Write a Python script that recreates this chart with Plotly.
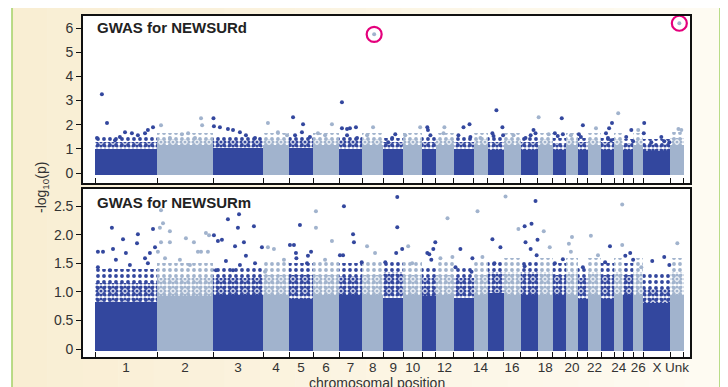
import plotly.graph_objects as go

# ---------------- data ----------------
chrom_names = ["1", "2", "3", "4", "5", "6", "7", "8", "9", "10", "11", "12", "13", "14",
               "15", "16", "17", "18", "19", "20", "21", "22", "23", "24", "25", "26", "X", "Unk"]
chrom_len_mb = [279, 252, 225, 117, 108, 117, 104, 95, 90, 86, 59, 81, 90, 63,
                72, 77, 77, 68, 59, 54, 45, 59, 59, 41, 45, 45, 122, 59]
tick_labels = ["1", "2", "3", "4", "5", "6", "7", "8", "9", "10", "", "12", "", "14",
               "", "16", "", "18", "", "20", "", "22", "", "24", "", "26", "X", "Unk"]

# NEWSURd: envelope of the dense SNP cloud per chromosome (-log10 p)
d_solid = [1.00, 1.15, 1.05, 1.15, 1.05, 1.15, 1.00, 1.15, 0.98, 1.15, 1.00, 1.15, 1.00, 1.15,
           0.97, 1.15, 0.95, 1.15, 0.95, 1.15, 0.97, 1.15, 0.97, 1.15, 0.95, 1.15, 0.92, 1.15]
d_dense = [1.30, 1.40, 1.35, 1.40, 1.35, 1.40, 1.35, 1.40, 1.28, 1.40, 1.30, 1.40, 1.30, 1.40,
           1.30, 1.40, 1.30, 1.40, 1.25, 1.40, 1.28, 1.40, 1.28, 1.40, 1.25, 1.40, 1.20, 1.45]
d_sparse = [1.50, 1.65, 1.55, 1.65, 1.50, 1.65, 1.55, 1.65, 1.45, 1.65, 1.50, 1.65, 1.50, 1.65,
            1.50, 1.65, 1.50, 1.65, 1.45, 1.65, 1.45, 1.65, 1.45, 1.65, 1.40, 1.65, 1.40, 1.70]

# NEWSURd: individual SNPs standing out above the cloud
d_peak_chr = (["1"] * 11 + ["2"] * 7 + ["3"] * 8 + ["4"] * 3 + ["5"] * 5 + ["6"] * 3 + ["7"] * 7 +
              ["8"] * 3 + ["9"] * 3 + ["10"] * 2 + ["11"] * 3 + ["12"] * 2 + ["13"] * 4 + ["14"] * 1 +
              ["15"] * 5 + ["16"] * 1 + ["17"] * 4 + ["18"] * 2 + ["19"] * 4 + ["20"] * 1 + ["21"] * 3 +
              ["22"] * 1 + ["23"] * 5 + ["24"] * 1 + ["25"] * 3 + ["26"] * 1 + ["X"] * 6 + ["Unk"] * 3)
d_peak_pos = [31, 54, 9, 135, 166, 193, 225, 238, 261, 90, 112,
              18, 112, 140, 198, 203, 58, 171,
              2, 4, 31, 67, 90, 121, 148, 189,
              22, 67, 108,
              18, 63, 58, 27, 94,
              85, 22, 54,
              13, 13, 36, 49, 76, 36, 81,
              54, 49, 22,
              54, 40, 22,
              76, 9,
              22, 25, 36,
              36, 40,
              45, 72, 22, 76,
              31,
              40, 67, 22, 27, 70,
              45,
              58, 67, 22, 45,
              4, 49,
              40, 9, 45, 22,
              22,
              22, 4, 13,
              36,
              49, 36, 22, 31, 45,
              18,
              36, 13, 44,
              22,
              4, 2, 36, 81, 94, 117,
              40, 36, 49]
d_peak_val = [3.26, 2.07, 1.45, 1.69, 1.65, 1.57, 1.65, 1.78, 1.90, 1.36, 1.49,
              1.98, 1.61, 1.65, 2.27, 1.98, 1.45, 1.45,
              2.27, 1.94, 1.90, 1.82, 1.78, 1.69, 1.57, 1.45,
              2.07, 1.69, 1.57,
              2.31, 2.02, 1.69, 1.57, 1.49,
              2.02, 1.65, 1.57,
              2.93, 1.86, 1.82, 1.86, 1.90, 1.57, 1.45,
              5.74, 1.90, 1.57,
              1.61, 1.45, 1.28,
              1.90, 1.57,
              1.90, 1.78, 1.57,
              1.65, 1.90,
              1.90, 2.02, 1.57, 1.49,
              1.45,
              2.60, 1.90, 1.65, 1.53, 1.57,
              1.57,
              1.78, 1.65, 1.45, 1.57,
              2.31, 1.61,
              2.27, 1.65, 1.61, 1.53,
              1.57,
              1.98, 1.61, 1.49,
              1.86,
              2.07, 1.86, 1.65, 1.45, 1.36,
              2.48,
              1.78, 1.49, 1.32,
              1.78,
              2.07, 1.65, 1.28, 1.49, 1.32, 1.28,
              6.20, 1.82, 1.78]
d_circled_chr = ["8", "Unk"]
d_circled_pos = [54, 40]
d_circled_val = [5.74, 6.20]

# NEWSURm: envelope of the dense SNP cloud per chromosome
m_solid = [0.82, 0.92, 0.95, 0.95, 0.88, 0.95, 0.95, 0.95, 0.90, 0.95, 0.92, 0.95, 0.90, 0.95,
           0.98, 0.95, 0.95, 0.95, 0.95, 0.95, 0.88, 0.95, 0.88, 0.95, 0.95, 0.95, 0.80, 0.95]
m_dense = [1.15, 1.25, 1.25, 1.30, 1.30, 1.30, 1.28, 1.30, 1.35, 1.30, 1.25, 1.30, 1.25, 1.30,
           1.35, 1.35, 1.35, 1.35, 1.30, 1.35, 1.25, 1.35, 1.30, 1.35, 1.30, 1.35, 1.05, 1.35]
m_sparse = [1.40, 1.50, 1.45, 1.55, 1.50, 1.55, 1.50, 1.55, 1.55, 1.55, 1.45, 1.55, 1.45, 1.55,
            1.55, 1.60, 1.55, 1.60, 1.50, 1.60, 1.45, 1.60, 1.50, 1.60, 1.50, 1.60, 1.35, 1.60]

m_peak_chr = (["1"] * 17 + ["2"] * 17 + ["3"] * 16 + ["4"] * 4 + ["5"] * 8 + ["6"] * 4 + ["7"] * 6 +
              ["8"] * 2 + ["9"] * 5 + ["10"] * 2 + ["11"] * 5 + ["12"] * 3 + ["13"] * 4 + ["14"] * 2 +
              ["15"] * 3 + ["16"] * 2 + ["17"] * 8 + ["18"] * 2 + ["19"] * 2 + ["20"] * 3 + ["21"] * 1 +
              ["22"] * 2 + ["23"] * 2 + ["24"] * 2 + ["25"] * 3 + ["26"] * 1 + ["X"] * 3 + ["Unk"] * 1)
m_peak_pos = [76, 13, 36, 81, 126, 193, 189, 261, 270, 13, 139, 94, 225, 247, 67, 157, 238,
              18, 27, 13, 58, 18, 58, 166, 184, 198, 220, 234, 4, 103, 229, 36, 148, 130,
              67, 117, 112, 184, 4, 22, 40, 139, 99, 220, 148, 58, 121, 189, 13, 90,
              22, 49, 9, 94,
              49, 4, 22, 31, 33, 99, 85, 81,
              13, 13, 85, 54,
              22, 63, 67, 4, 18, 102,
              22, 58,
              63, 63, 85, 58, 9,
              22, 40,
              58, 22, 31, 49, 40,
              54, 22, 76,
              31, 85, 9, 81,
              18, 40,
              22, 58, 31,
              9, 67,
              67, 18, 49, 76, 22, 45, 72, 18,
              27, 54,
              45, 9,
              27, 13, 22,
              22,
              13, 45,
              40, 18,
              36, 36,
              31, 9, 44,
              36,
              40, 94, 117,
              31]
m_peak_val = [2.12, 1.70, 1.70, 1.75, 1.92, 2.01, 1.85, 2.10, 1.78, 1.43, 1.68, 1.56, 1.59, 1.68, 1.38, 1.47, 1.50,
              2.43, 2.20, 2.12, 2.06, 1.87, 1.87, 1.87, 1.70, 1.70, 2.03, 1.99, 1.70, 1.56, 1.70, 1.59, 1.47, 1.94,
              2.27, 2.36, 2.12, 2.15, 1.99, 1.89, 1.91, 1.87, 1.80, 1.78, 1.63, 1.54, 1.47, 1.50, 1.38, 1.38,
              1.78, 1.75, 1.35, 1.56,
              2.17, 1.82, 1.82, 1.68, 1.59, 1.70, 1.63, 1.50,
              2.41, 2.12, 1.89, 1.56,
              2.50, 2.01, 1.87, 1.64, 1.64, 1.52,
              1.80, 1.68,
              2.66, 2.13, 1.75, 1.68, 1.52,
              1.80, 1.50,
              1.87, 1.68, 1.66, 1.75, 1.56,
              2.29, 1.59, 1.61,
              1.75, 1.59, 1.43, 1.35,
              2.41, 1.61,
              1.92, 1.78, 1.50,
              2.67, 2.10,
              2.59, 2.15, 2.19, 1.91, 1.87, 1.75, 1.64, 1.45,
              2.06, 1.78,
              1.57, 1.50,
              1.96, 1.84, 1.70,
              1.43,
              1.98, 1.64,
              1.80, 1.52,
              2.53, 1.82,
              1.68, 1.63, 1.56,
              1.43,
              1.54, 1.61, 1.47,
              1.85]

# ---------------- styling ----------------
DARK = "#33479e"
LIGHT = "#a1b3cd"
FONT = "Arial, Liberation Sans, Helvetica, sans-serif"

starts = []
acc = 0
for L in chrom_len_mb:
    starts.append(acc)
    acc += L
genome_end = acc
centers = [s + L / 2 for s, L in zip(starts, chrom_len_mb)]
boundaries = starts + [genome_end]
offset = dict(zip(chrom_names, starts))
col_of = {c: (DARK if i % 2 == 0 else LIGHT) for i, c in enumerate(chrom_names)}
bar_colors = [col_of[c] for c in chrom_names]

fig = go.Figure()


def add_panel(solid, dense, sparse, base, pchr, ppos, pval, xa, ya):
    # stippled (dotted-pattern) zones imitate the thinning cloud of SNP points
    for tops, psize, psol in ((sparse, 6, 0.32), (dense, 4, 0.5)):
        fig.add_trace(go.Bar(
            x=centers, y=[t - base for t in tops], base=[base] * len(tops), width=chrom_len_mb,
            marker=dict(color=bar_colors, line=dict(width=0),
                        pattern=dict(shape=".", fgcolor=bar_colors, bgcolor="rgba(0,0,0,0)",
                                     size=psize, solidity=psol, fillmode="replace")),
            xaxis=xa, yaxis=ya, hoverinfo="skip", showlegend=False))
    fig.add_trace(go.Bar(
        x=centers, y=[t - base for t in solid], base=[base] * len(solid), width=chrom_len_mb,
        marker=dict(color=bar_colors, line=dict(width=0)),
        xaxis=xa, yaxis=ya, hoverinfo="skip", showlegend=False))
    for col in (LIGHT, DARK):
        xs = [offset[c] + p for c, p, v in zip(pchr, ppos, pval) if col_of[c] == col]
        ys = [v for c, p, v in zip(pchr, ppos, pval) if col_of[c] == col]
        fig.add_trace(go.Scatter(
            x=xs, y=ys, mode="markers", marker=dict(size=4, color=col),
            xaxis=xa, yaxis=ya, showlegend=False, cliponaxis=False, hoverinfo="skip"))


add_panel(d_solid, d_dense, d_sparse, -0.08, d_peak_chr, d_peak_pos, d_peak_val, "x2", "y2")
add_panel(m_solid, m_dense, m_sparse, -0.03, m_peak_chr, m_peak_pos, m_peak_val, "x", "y")

fig.add_trace(go.Scatter(
    x=[offset[c] + p for c, p in zip(d_circled_chr, d_circled_pos)], y=d_circled_val,
    mode="markers", marker=dict(symbol="circle-open", size=15, color="#e4007c", line=dict(width=2.2)),
    xaxis="x2", yaxis="y2", showlegend=False, cliponaxis=False, hoverinfo="skip"))

# ---------------- layout ----------------
# the page body has an 8 px margin, so the figure is made 8 px smaller and all
# positions below are given in window pixels.
PAGE_W, PAGE_H, BODY = 728, 387, 8
W, H = PAGE_W - BODY, PAGE_H - BODY
PLOT_L, PLOT_R, PLOT_T, PLOT_B = 83, 690, 16, 357          # window pixels
ML, MT = PLOT_L - BODY, PLOT_T - BODY
MR, MB = W - (PLOT_R - BODY), H - (PLOT_B - BODY)
PW, PH = PLOT_R - PLOT_L, PLOT_B - PLOT_T


def xp(px):
    return (px - PLOT_L) / PW


def yp(py):
    return (PLOT_B - py) / PH


shapes = []
# cream background panel with gradient (left cream -> right almost white)
n = 20
c0 = (249, 238, 211)
c1 = (254, 251, 242)
x_left, x_right = 12, 720
for i in range(n):
    t = i / (n - 1)
    col = "rgb(%d,%d,%d)" % tuple(round(a + (b - a) * t) for a, b in zip(c0, c1))
    xa0 = x_left + (x_right - x_left) * i / n
    xa1 = x_left + (x_right - x_left) * (i + 1) / n + 0.5
    shapes.append(dict(type="rect", xref="paper", yref="paper", layer="below",
                       x0=xp(xa0), x1=xp(xa1), y0=yp(400), y1=yp(7),
                       fillcolor=col, line=dict(width=0)))
shapes.append(dict(type="rect", xref="paper", yref="paper", layer="below",
                   x0=xp(12), x1=xp(720), y0=yp(420), y1=yp(7),
                   fillcolor="rgba(0,0,0,0)", line=dict(color="#a9d46f", width=1.6)))
for xr, yr in (("x domain", "y domain"), ("x2 domain", "y2 domain")):
    shapes.append(dict(type="rect", xref=xr, yref=yr, layer="below", x0=0, x1=1, y0=0, y1=1,
                       fillcolor="white", line=dict(width=0)))

axis_common = dict(showline=True, linecolor="#111", linewidth=1.6, mirror=True,
                   showgrid=False, zeroline=False, automargin=False)
minor_ticks = dict(tickmode="array", tickvals=boundaries, ticks="inside", ticklen=5,
                   tickwidth=1.2, tickcolor="#111", showgrid=False)
x_range = [-54, 2677]

fig.update_layout(
    width=W, height=H, margin=dict(l=ML, r=MR, t=MT, b=MB, autoexpand=False),
    paper_bgcolor="white", plot_bgcolor="rgba(0,0,0,0)",
    barmode="overlay", bargap=0, showlegend=False,
    font=dict(family=FONT, color="#333", size=14),
    shapes=shapes,
    xaxis=dict(anchor="y", domain=[0, 1], range=x_range, tickmode="array", tickvals=centers,
               ticktext=tick_labels, ticks="", ticklabelstandoff=-3,
               tickfont=dict(size=13.5, color="#333"),
               minor=minor_ticks, **axis_common),
    xaxis2=dict(anchor="y2", domain=[0, 1], range=x_range, matches="x", showticklabels=False,
                ticks="", minor=minor_ticks, **axis_common),
    yaxis=dict(anchor="x", domain=[0, yp(189)], range=[-0.14, 2.80], tickmode="array",
               tickvals=[0, 0.5, 1, 1.5, 2, 2.5], ticktext=["0", "0.5", "1.0", "1.5", "2.0", "2.5"],
               ticks="outside", ticklen=5, tickwidth=1.2, tickcolor="#111",
               tickfont=dict(size=14, color="#333"), **axis_common),
    yaxis2=dict(anchor="x2", domain=[yp(183), 1], range=[-0.41, 6.50], tickmode="array",
                tickvals=[0, 1, 2, 3, 4, 5, 6], ticktext=["0", "1", "2", "3", "4", "5", "6"],
                ticks="outside", ticklen=5, tickwidth=1.2, tickcolor="#111",
                tickfont=dict(size=14, color="#333"), **axis_common),
    annotations=[
        dict(text="<b>GWAS for NEWSURd</b>", xref="paper", yref="paper", x=xp(95), y=yp(28),
             xanchor="left", yanchor="middle", showarrow=False,
             font=dict(size=15, color="#222", family=FONT)),
        dict(text="<b>GWAS for NEWSURm</b>", xref="paper", yref="paper", x=xp(95), y=yp(203),
             xanchor="left", yanchor="middle", showarrow=False,
             font=dict(size=15, color="#222", family=FONT)),
        dict(text="-log<sub>10</sub>(p)", xref="paper", yref="paper", x=xp(42), y=yp(188),
             textangle=-90, xanchor="center", yanchor="middle", showarrow=False,
             font=dict(size=14, color="#333", family=FONT)),
        dict(text="chromosomal position", xref="paper", yref="paper", x=xp(377), y=yp(383),
             xanchor="center", yanchor="middle", showarrow=False,
             font=dict(size=14, color="#333", family=FONT)),
    ],
)

fig.write_html("out.html")
